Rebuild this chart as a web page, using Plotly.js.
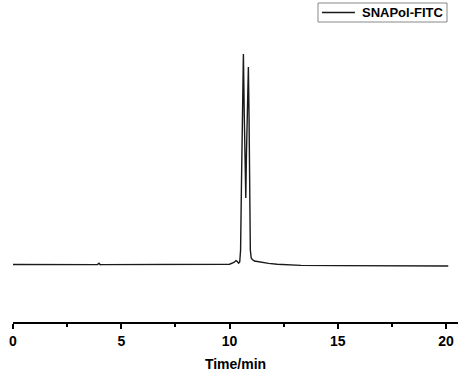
<!DOCTYPE html>
<html>
<head>
<meta charset="utf-8">
<script src="https://cdn.plot.ly/plotly-3.0.1.min.js"></script>
<style>html,body{margin:0;padding:0;background:#fff;}#chart{width:458px;height:373px;}</style>
</head>
<body>
<div id="chart"></div>
<script>
// Chromatogram data (time in minutes, detector signal in arbitrary units)
const seriesName = "SNAPol-FITC";
const timeMin = [0, 2, 3.9, 3.97, 4.03, 4.1, 6, 8, 9.5, 10.0, 10.2, 10.3, 10.36, 10.42, 10.47,
  10.51, 10.55, 10.6, 10.64, 10.68, 10.72, 10.75, 10.78, 10.82, 10.87, 10.9, 10.93, 10.96,
  11.0, 11.05, 11.15, 11.3, 11.5, 11.8, 12.2, 12.7, 13.3, 15, 17, 18.5, 19.5, 20.1];
const signal = [0.5, 0.5, 0.4, 1.8, 0.2, 0.4, 0.3, 0.2, 0.5, 0.8, 2.5, 4.3, 3.5, 1.8, 3,
  15, 80, 170, 211, 150, 90, 67, 110, 170, 198, 150, 60, 15,
  7, 5.5, 4, 3.3, 2.5, 1.6, 0.8, 0.1, -0.4, -0.6, -0.7, -0.8, -1, -1];
const xTickVals = [0, 5, 10, 15, 20];

const fontFam = '"Liberation Sans", Arial, sans-serif';
const lineColor = '#1a1a1a';
Plotly.newPlot('chart', [{
  x: timeMin, y: signal, type: 'scatter', mode: 'lines', name: seriesName,
  line: {color: lineColor, width: 1.4}
}], {
  width: 458, height: 373,
  margin: {l: 13, r: 0, t: 22, b: 51},
  paper_bgcolor: '#fff', plot_bgcolor: '#fff',
  showlegend: false,
  shapes: [
    {type: 'rect', xref: 'paper', yref: 'paper', x0: 0.6854, x1: 0.9753, y0: 1.0, y1: 1.0633,
      line: {color: '#888', width: 1}, fillcolor: '#fff', layer: 'above'},
    {type: 'line', xref: 'paper', yref: 'paper', x0: 0.6944, x1: 0.7685, y0: 1.0317, y1: 1.0317,
      line: {color: lineColor, width: 1.4}, layer: 'above'}
  ],
  annotations: [
    {xref: 'paper', yref: 'paper', x: 0.7798, y: 1.0317, xanchor: 'left', yanchor: 'middle',
      text: seriesName, showarrow: false,
      font: {family: fontFam, size: 13, weight: 'bold', color: '#000'}}
  ],
  xaxis: {range: [0, 20.55], tickvals: xTickVals, ticktext: xTickVals.map(String),
    showgrid: false, zeroline: false, showline: true, linecolor: '#000', linewidth: 2,
    ticks: 'outside', ticklen: 5, tickwidth: 2, tickcolor: '#000',
    minor: {dtick: 2.5, tick0: 0, ticks: 'outside', ticklen: 3, tickwidth: 2, tickcolor: '#000', showgrid: false},
    tickfont: {family: fontFam, size: 14, weight: 'bold', color: '#000'},
    title: {text: 'Time/min', font: {family: fontFam, size: 14, weight: 'bold', color: '#000'}, standoff: 11}},
  yaxis: {range: [-57, 243], visible: false, showgrid: false, zeroline: false}
}, {staticPlot: true});
</script>
</body>
</html>
